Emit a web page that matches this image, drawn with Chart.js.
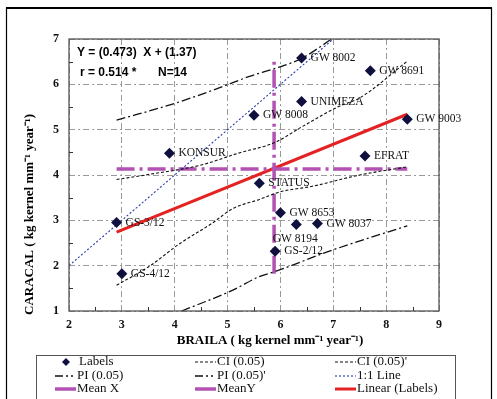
<!DOCTYPE html>
<html>
<head>
<meta charset="utf-8">
<script src="https://cdn.jsdelivr.net/npm/chart.js@4.4.0/dist/chart.umd.min.js"></script>
<style>
  html, body { margin: 0; padding: 0; background: #fff; }
  canvas { display: block; }
</style>
</head>
<body>
<canvas id="chart" width="497" height="399"></canvas>
<script>
// genotypes (x = Braila, y = Caracal)
const genotypes = ['GS-3/12', 'GS-4/12', 'KONSUR', 'GW 8002', 'GW 8691', 'UNIMEZA', 'GW 8008',
  'GW 9003', 'EFRAT', 'STATUS', 'GW 8653', 'GW 8194', 'GW 8037', 'GS-2/12'];
const brailaValues = [2.9, 3.0, 3.9, 6.4, 7.7, 6.4, 5.5, 8.4, 7.6, 5.6, 6.0, 6.3, 6.7, 5.9];
const caracalValues = [2.95, 1.82, 4.48, 6.58, 6.3, 5.62, 5.32, 5.23, 4.42, 3.82, 3.17, 2.91, 2.93, 2.32];

// confidence / prediction bands
const ciLowerX = [2.9, 3.5, 4.1, 4.7, 5.1, 5.6, 6.0, 6.6, 7.5, 8.4];
const ciLowerY = [1.57, 1.97, 2.49, 2.93, 3.26, 3.46, 3.63, 3.75, 4.0, 4.18];
const ciUpperX = [2.9, 3.5, 4.5, 5.2, 5.9, 6.4, 7.1, 7.5, 8.4];
const ciUpperY = [3.9, 4.01, 4.22, 4.48, 4.72, 5.06, 5.51, 5.7, 6.51];
const piUpperX = [2.9, 4.0, 5.0, 5.4, 5.9, 6.4, 6.97];
const piUpperY = [5.21, 5.58, 5.99, 6.17, 6.35, 6.57, 7.0];
const piLowerX = [4.13, 5.1, 5.6, 5.9, 6.9, 8.4];
const piLowerY = [1.0, 1.46, 1.76, 1.87, 2.31, 2.88];

const oneToOneX = [2, 7];
const oneToOneY = [2, 7];
const meanXLineX = [5.88, 5.88];
const meanXLineY = [1.82, 6.6];
const meanYLineX = [2.9, 8.4];
const meanYLineY = [4.13, 4.13];
const linearX = [2.9, 8.4];
const linearY = [2.74, 5.34];

const xTicks = [2, 3, 4, 5, 6, 7, 8, 9];
const yTicks = [1, 2, 3, 4, 5, 6, 7];

const equationText = 'Y = (0.473)  X + (1.37)';
const statText = 'r = 0.514 *';
const nText = 'N=14';

const pts = (xs, ys) => xs.map((x, i) => ({ x: x, y: ys[i] }));

const serif = "'Liberation Serif', 'Times New Roman', serif";
const sans = "'Liberation Sans', Arial, sans-serif";
const magenta = '#b252b2';

function lineSet(label, xs, ys, color, width, dash, smooth) {
  return {
    label: label,
    data: pts(xs, ys),
    showLine: true,
    borderColor: color,
    backgroundColor: color,
    borderWidth: width,
    borderDash: dash,
    pointRadius: 0,
    pointHoverRadius: 0,
    cubicInterpolationMode: smooth ? 'monotone' : 'default',
    tension: 0
  };
}

const datasets = [
  {
    label: 'Labels',
    data: pts(brailaValues, caracalValues),
    pointStyle: 'rectRot',
    pointRadius: 5.5,
    backgroundColor: '#10103f',
    borderColor: '#10103f',
    borderWidth: 0,
    showLine: false
  },
  lineSet('CI (0.05)', ciLowerX, ciLowerY, '#111', 1.1, [3, 2], true),
  lineSet("CI (0.05)'", ciUpperX, ciUpperY, '#111', 1.1, [3, 2], true),
  lineSet('PI (0.05)', piLowerX, piLowerY, '#111', 1.3, [9, 3, 2, 3], true),
  lineSet("PI (0.05)'", piUpperX, piUpperY, '#111', 1.3, [9, 3, 2, 3], true),
  lineSet('1:1 Line', oneToOneX, oneToOneY, '#2a3cb0', 1.1, [2, 2], false),
  lineSet('Mean X', meanXLineX, meanXLineY, magenta, 3.5, [18, 5, 3, 5], false),
  lineSet('MeanY', meanYLineX, meanYLineY, magenta, 3.5, [18, 5, 3, 5], false),
  lineSet('Linear (Labels)', linearX, linearY, '#e52222', 3, [], false)
];

// labels, frame, titles, minor ticks and the boxed legend
const decorPlugin = {
  id: 'decor',
  beforeDraw(chart) {
    const ctx = chart.ctx;
    ctx.save();
    ctx.fillStyle = '#fff';
    ctx.fillRect(0, 0, chart.width, chart.height);
    ctx.restore();
  },
  afterDraw(chart) {
    const ctx = chart.ctx;
    const xs = chart.scales.x, ys = chart.scales.y;
    const a = chart.chartArea;
    ctx.save();

    // outer frame
    ctx.strokeStyle = '#000';
    ctx.lineWidth = 1.2;
    ctx.beginPath();
    ctx.moveTo(6.5, 400); ctx.lineTo(6.5, 8); ctx.lineTo(491.5, 8); ctx.lineTo(491.5, 400);
    ctx.stroke();
    ctx.lineWidth = 2;
    ctx.beginPath(); ctx.moveTo(6, 8); ctx.lineTo(492, 8); ctx.stroke();

    // plot frame
    ctx.strokeStyle = '#555';
    ctx.lineWidth = 1.3;
    ctx.strokeRect(a.left, a.top, a.right - a.left, a.bottom - a.top);

    // minor ticks
    ctx.strokeStyle = '#333';
    ctx.lineWidth = 1;
    ctx.beginPath();
    for (let v = xTicks[0] + 0.5; v < xTicks[xTicks.length - 1]; v += 1) {
      const px = Math.round(xs.getPixelForValue(v)) + 0.5;
      ctx.moveTo(px, a.bottom); ctx.lineTo(px, a.bottom - 4);
    }
    for (let v = yTicks[0] + 0.5; v < yTicks[yTicks.length - 1]; v += 1) {
      const py = Math.round(ys.getPixelForValue(v)) + 0.5;
      ctx.moveTo(a.left, py); ctx.lineTo(a.left + 4, py);
    }
    ctx.stroke();

    // point labels
    ctx.fillStyle = '#111';
    ctx.font = '11.5px ' + serif;
    ctx.textBaseline = 'middle';
    genotypes.forEach((name, i) => {
      const px = xs.getPixelForValue(brailaValues[i]);
      const py = ys.getPixelForValue(caracalValues[i]);
      if (name === 'GW 8194') {
        ctx.textAlign = 'center';
        ctx.fillText(name, px - 1, py + 15);
      } else {
        ctx.textAlign = 'left';
        ctx.fillText(name, px + 9, py);
      }
    });

    // regression text
    ctx.textAlign = 'left';
    ctx.font = 'bold 12px ' + sans;
    ctx.fillStyle = '#000';
    ctx.fillText(equationText, 77, 53);
    ctx.fillText(statText, 80, 73);
    ctx.fillText(nText, 158, 73);

    // axis titles
    ctx.font = 'bold 13px ' + serif;
    ctx.textAlign = 'center';
    ctx.fillText('BRAILA ( kg kernel mm\u207B\u00B9 year\u207B\u00B9)', 270, 341);
    ctx.save();
    ctx.translate(30, 315);
    ctx.rotate(-Math.PI / 2);
    ctx.textAlign = 'left';
    ctx.fillText('CARACAL ( kg kernel mm\u207B\u00B9 year\u207B\u00B9)', 0, 0);
    ctx.restore();

    // legend box
    ctx.strokeStyle = '#555';
    ctx.lineWidth = 1;
    ctx.strokeRect(36.5, 355.5, 419, 60);
    const cols = [55, 195, 335];
    const rows = [362, 376, 389];
    ctx.font = '13px ' + serif;
    ctx.fillStyle = '#111';
    ctx.textAlign = 'left';
    chart.data.datasets.forEach((ds, i) => {
      const cx = cols[i % 3], cy = rows[Math.floor(i / 3)];
      if (!ds.showLine) {
        ctx.fillStyle = ds.backgroundColor;
        ctx.beginPath();
        ctx.moveTo(cx + 11, cy - 4); ctx.lineTo(cx + 15, cy);
        ctx.lineTo(cx + 11, cy + 4); ctx.lineTo(cx + 7, cy);
        ctx.closePath(); ctx.fill();
        ctx.fillStyle = '#111';
        ctx.fillText(ds.label, cx + 24, cy);
        return;
      }
      ctx.strokeStyle = ds.borderColor;
      ctx.lineWidth = ds.borderWidth;
      ctx.setLineDash(ds.borderDash.length > 2 && ds.borderWidth < 3 ? [8, 3, 2, 3, 2, 3] : (ds.borderWidth >= 3 ? [] : ds.borderDash));
      ctx.beginPath();
      ctx.moveTo(cx, cy); ctx.lineTo(cx + 21, cy);
      ctx.stroke();
      ctx.setLineDash([]);
      ctx.fillStyle = '#111';
      ctx.fillText(ds.label, cx + 22, cy);
    });

    ctx.restore();
  }
};

const tickFont = { family: serif, size: 12, weight: 'bold' };

new Chart(document.getElementById('chart').getContext('2d'), {
  type: 'scatter',
  data: { datasets: datasets },
  options: {
    responsive: false,
    animation: false,
    devicePixelRatio: 1,
    layout: { padding: { top: 39, right: 58, left: 0, bottom: 0 } },
    plugins: {
      legend: { display: false },
      tooltip: { enabled: false }
    },
    scales: {
      x: {
        type: 'linear',
        min: xTicks[0],
        max: xTicks[xTicks.length - 1],
        afterBuildTicks: (s) => { s.ticks = xTicks.map(v => ({ value: v })); },
        ticks: { padding: 7, color: '#111', font: tickFont },
        grid: { color: '#9a9a9a', lineWidth: 1, drawTicks: false },
        border: { display: false, dash: [6, 3, 2, 3] },
        afterFit: (s) => { s.height = 88; }
      },
      y: {
        type: 'linear',
        min: yTicks[0],
        max: yTicks[yTicks.length - 1],
        afterBuildTicks: (s) => { s.ticks = yTicks.map(v => ({ value: v })); },
        ticks: { padding: 10, color: '#111', font: tickFont },
        grid: { color: '#9a9a9a', lineWidth: 1, drawTicks: false },
        border: { display: false, dash: [6, 3, 2, 3] },
        afterFit: (s) => { s.width = 69; }
      }
    }
  },
  plugins: [decorPlugin]
});
</script>
</body>
</html>
